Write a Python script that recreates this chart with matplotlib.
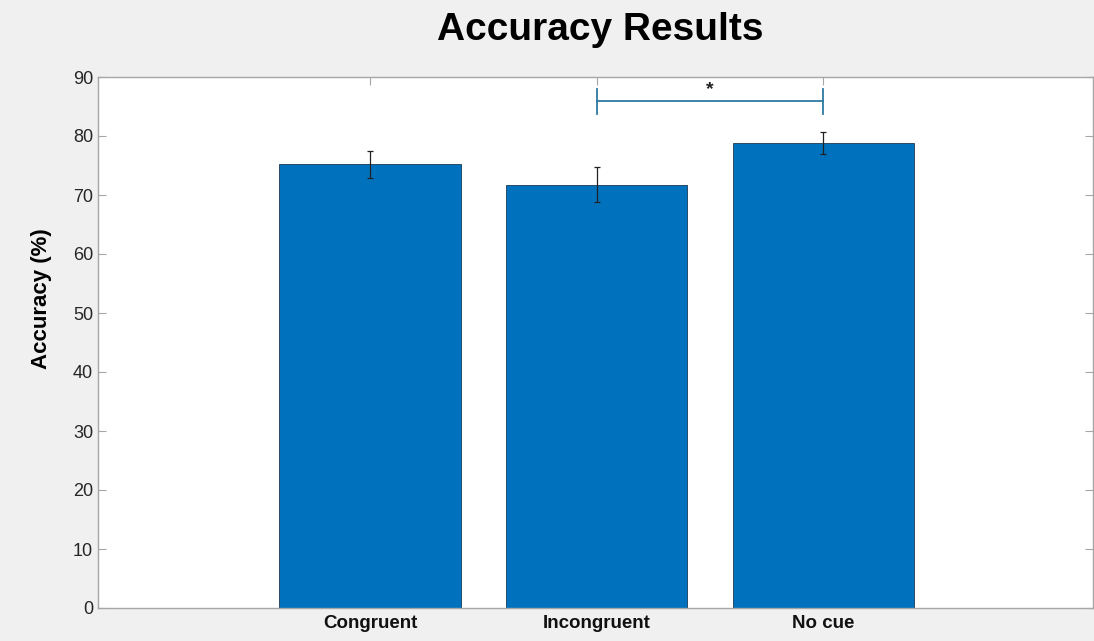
import matplotlib
matplotlib.use("Agg")
import matplotlib.pyplot as plt
import numpy as np

conditions = ["Congruent", "Incongruent", "No cue"]
accuracy = [75.2, 71.75, 78.85]
sem = [2.25, 2.95, 1.85]
sig_pair = (1, 2)
sig_label = "*"
yticks = list(range(0, 91, 10))

bar_color = "#0072BD"
bg = "#f0f0f0"
axis_gray = "#a6a6a6"
plt.rcParams["font.family"] = ["Liberation Sans", "DejaVu Sans"]

fig = plt.figure(figsize=(10.94, 6.41), dpi=100, facecolor=bg)
ax = fig.add_axes([98 / 1094, 33 / 641, 995 / 1094, 531 / 641])
ax.set_facecolor("white")

x = np.arange(len(conditions))
ax.bar(x, accuracy, width=0.8, color=bar_color, edgecolor="#1a3a55", linewidth=0.6, zorder=2)
ax.errorbar(x, accuracy, yerr=sem, fmt="none", ecolor="#222222", elinewidth=0.9,
            capsize=2.5, capthick=0.9, zorder=3)

# significance bracket between the two compared conditions
y_br = 85.9
x0, x1 = x[sig_pair[0]], x[sig_pair[1]]
br_col = "#2f7aa3"
ax.plot([x0, x1], [y_br, y_br], color=br_col, lw=1.3, zorder=4)
ax.plot([x0, x0], [y_br - 2.1, y_br + 2.1], color=br_col, lw=1.3, zorder=4)
ax.plot([x1, x1], [y_br - 2.1, y_br + 2.1], color=br_col, lw=1.3, zorder=4)
ax.text((x0 + x1) / 2, y_br + 0.6, sig_label, ha="center", va="bottom",
        fontsize=14, fontweight="bold", color="#222222")

ax.set_xlim(-1.2, 3.19)
ax.set_ylim(0, 90)
ax.set_yticks(yticks)
ax.set_xticks(x)
ax.set_xticklabels(conditions, fontsize=13.5, fontweight="bold", color="#111111")
ax.tick_params(axis="y", labelsize=13, labelcolor="#262626")
ax.tick_params(direction="in", which="both", top=True, right=True, color=axis_gray,
               length=6, width=0.8)
ax.tick_params(axis="x", pad=5)
for s in ax.spines.values():
    s.set_color(axis_gray)
    s.set_linewidth(1.0)

ax.set_ylabel("Accuracy (%)", fontsize=16, fontweight="bold")
ax.yaxis.set_label_coords(-0.046, 0.582)
fig.text(0.549, 0.953, "Accuracy Results", ha="center", va="center",
         fontsize=28, fontweight="bold")

fig.savefig("out.png", dpi=100, facecolor=bg)
